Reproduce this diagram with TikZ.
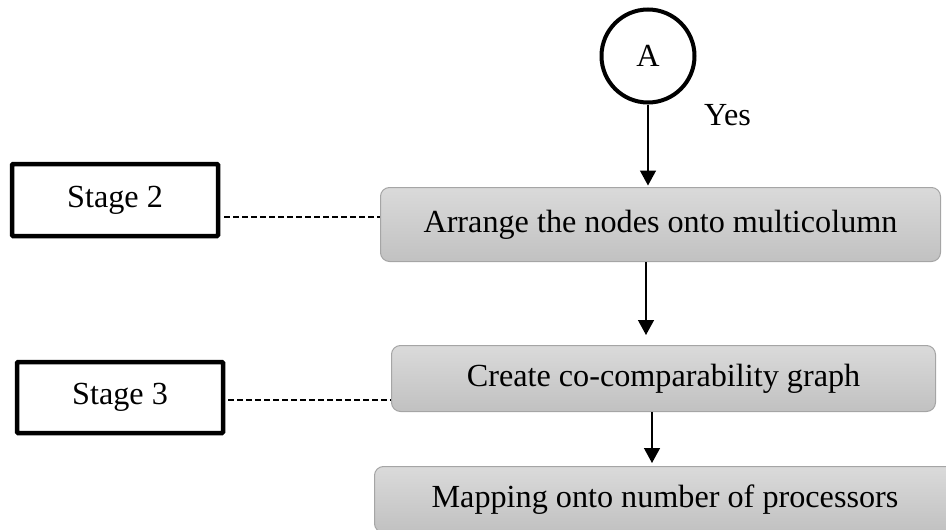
\documentclass[tikz,border=0pt]{standalone}
\usepackage{fontspec}
\setmainfont{Liberation Serif}
\usetikzlibrary{arrows.meta,calc}
\definecolor{boxtop}{RGB}{218,218,218}
\definecolor{boxbottom}{RGB}{193,193,193}
\definecolor{boxedge}{RGB}{165,165,165}
\begin{document}
\begin{tikzpicture}[x=1pt,y=-1pt,
  every node/.style={font=\fontsize{32.2}{38}\selectfont},
  stagebox/.style={draw=black, line width=4.5pt, rounded corners=1pt,
    minimum width=206pt, minimum height=72pt, inner sep=0pt},
  procbox/.style={draw=boxedge, line width=1pt, rounded corners=9pt,
    top color=boxtop, bottom color=boxbottom, inner sep=0pt},
  connector/.style={draw=black, circle, line width=4pt, minimum size=93pt, inner sep=0pt},
  flow/.style={line width=1.4pt, -{Triangle[width=16pt,length=15pt]}},
  link/.style={line width=1.4pt, dash pattern=on 6pt off 3pt}]
\useasboundingbox (0,0) rectangle (946,530);
\clip (0,0) rectangle (946,530);

% off-page connector and its label
\node[connector] (A) at (648,56) {\raisebox{-3pt}{A}};
\node (yes) at (727.5,115) {Yes};

% stage labels
\node[stagebox] (s2) at (115,200) {Stage 2};
\node[stagebox, minimum height=71pt] (s3) at (120,397.5) {Stage 3};

% process steps
\node[procbox, minimum width=560pt, minimum height=74pt] (arr) at (660.5,224.5)
  {Arrange the nodes onto multicolumn};
\node[procbox, minimum width=544pt, minimum height=66pt] (cre) at (663.5,378.5)
  {Create co-comparability graph};
\node[procbox, minimum width=581pt, minimum height=66pt] (map) at (665,499.5)
  {Mapping onto number of processors};

% flow arrows
\draw[flow, shorten >=1.5pt] (A.south) -- (A.south |- arr.north);
\draw[flow, shorten >=10pt] ([xshift=-14.5pt]arr.south) -- ([xshift=-14.5pt]arr.south |- cre.north);
\draw[flow, shorten >=3pt] ([xshift=-11.5pt]cre.south) -- ([xshift=-11.5pt]cre.south |- map.north);

% stage links
\draw[link, shorten <=4pt] ([yshift=-17pt]s2.east) -- ([yshift=-17pt]s2.east -| arr.west);
\draw[link, shorten <=3pt] ([yshift=-2.5pt]s3.east) -- ([yshift=-2.5pt]s3.east -| cre.west);
\end{tikzpicture}
\end{document}
